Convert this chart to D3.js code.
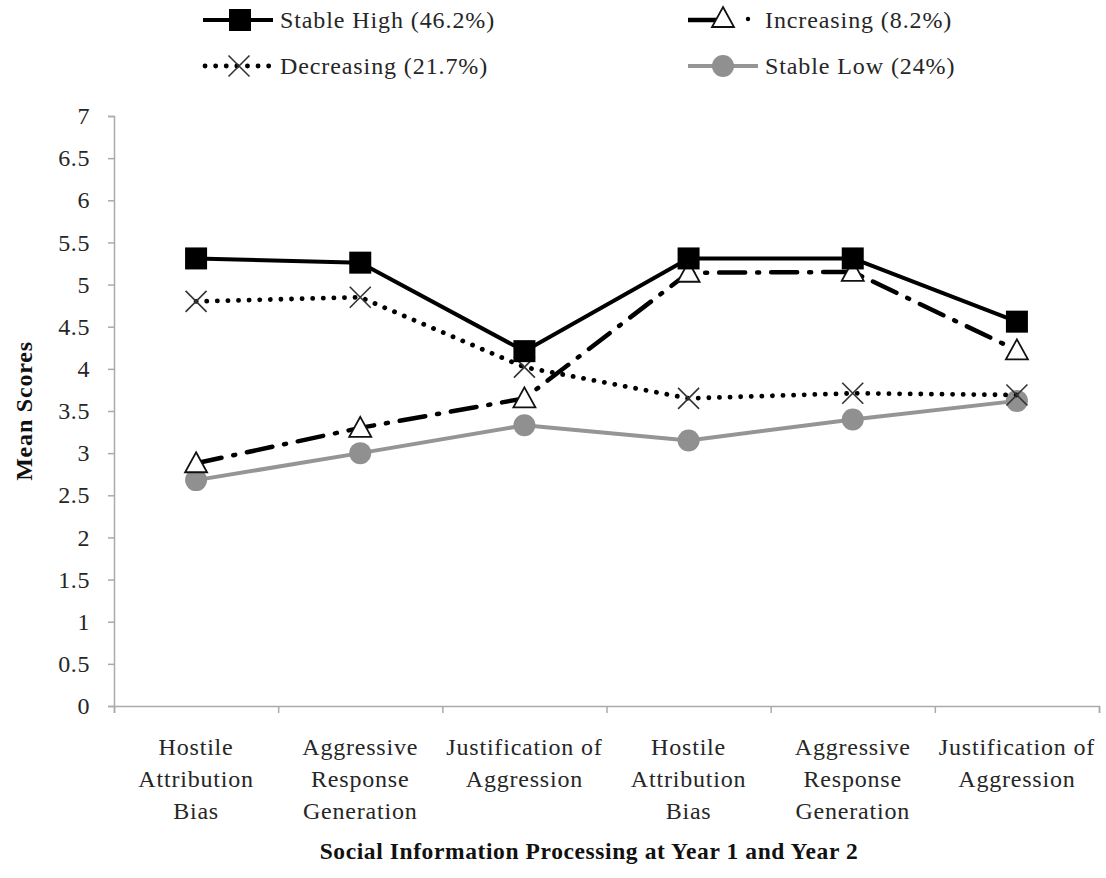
<!DOCTYPE html>
<html><head><meta charset="utf-8">
<script src="https://cdn.jsdelivr.net/npm/d3@7"></script>
<style>body{margin:0;background:#fff}svg{display:block}</style>
</head><body>
<svg id="c" width="1106" height="878"></svg>
<script>
const categories = [
  ["Hostile","Attribution","Bias"],
  ["Aggressive","Response","Generation"],
  ["Justification of","Aggression"],
  ["Hostile","Attribution","Bias"],
  ["Aggressive","Response","Generation"],
  ["Justification of","Aggression"]
];
const stableHigh = [5.31, 5.26, 4.21, 5.31, 5.31, 4.56];
const increasing = [2.88, 3.30, 3.65, 5.14, 5.15, 4.22];
const decreasing = [4.80, 4.85, 4.02, 3.65, 3.71, 3.69];
const stableLow  = [2.68, 3.00, 3.33, 3.15, 3.40, 3.62];
const yTicks = [0,0.5,1,1.5,2,2.5,3,3.5,4,4.5,5,5.5,6,6.5,7];
const seriesNames = ["Stable High (46.2%)","Increasing (8.2%)","Decreasing (21.7%)","Stable Low (24%)"];

const svg = d3.select("#c");
const font = '"Liberation Serif", "Times New Roman", Times, serif';
const mLeft = 114, mRight = 1099, mTop = 116, mBottom = 706;
const txtCol = "#262626";

const x = d3.scaleBand().domain(d3.range(categories.length)).range([mLeft, mRight]);
const y = d3.scaleLinear().domain([0, 7]).range([mBottom, mTop]);
const cx = i => x(i) + x.bandwidth() / 2;

function styleText(sel, size, spacing, weight) {
  return sel.style("font-family", font).style("font-size", size + "px")
    .style("letter-spacing", spacing + "px").style("font-weight", weight || "normal");
}

// Y axis
const yAxis = d3.axisLeft(y).tickValues(yTicks).tickSize(6).tickFormat(d3.format("~g"));
const gy = svg.append("g").attr("transform", `translate(${mLeft},0)`).call(yAxis);
gy.select(".domain").attr("stroke", "#aaa").attr("stroke-width", 1.5);
gy.selectAll(".tick line").attr("stroke", "#aaa").attr("stroke-width", 1.5);
styleText(gy.selectAll(".tick text"), 24, 0.6).attr("fill", txtCol).attr("x", -24);

// X axis
const xb = d3.scaleLinear().domain([0, categories.length]).range([mLeft, mRight]);
const gx = svg.append("g").attr("transform", `translate(0,${mBottom})`)
  .call(d3.axisBottom(xb).tickValues(d3.range(categories.length + 1)).tickSize(7).tickFormat(""));
gx.select(".domain").attr("stroke", "#aaa").attr("stroke-width", 1.5);
gx.selectAll(".tick line").attr("stroke", "#aaa").attr("stroke-width", 1.5);

// X labels
categories.forEach((lines, i) => {
  const t = styleText(svg.append("text"), 24, 0.8).attr("fill", txtCol).attr("text-anchor", "middle");
  lines.forEach((l, j) => t.append("tspan").attr("x", cx(i)).attr("y", 755 + j * 32).text(l));
});

// Titles
styleText(svg.append("text"), 23.5, 0.6, "bold").attr("x", 589).attr("y", 859).attr("text-anchor", "middle")
  .attr("fill", "#111").text("Social Information Processing at Year 1 and Year 2");
styleText(svg.append("text"), 24, 0.8, "bold").attr("transform", `translate(32,${(mTop + mBottom) / 2}) rotate(-90)`)
  .attr("text-anchor", "middle").attr("fill", "#111").text("Mean Scores");

const line = d3.line().x((d, i) => cx(i)).y(d => y(d));

function square(g, px, py) {
  g.append("rect").attr("x", px - 11).attr("y", py - 11).attr("width", 22).attr("height", 22).attr("fill", "#000");
}
function tri(g, px, py) {
  g.append("path").attr("d", `M${px},${py - 11} L${px + 11},${py + 9} L${px - 11},${py + 9} Z`)
    .attr("fill", "#fff").attr("stroke", "#111").attr("stroke-width", 1.8);
}
function cross(g, px, py) {
  g.append("path").attr("d", `M${px - 10.5},${py - 10.5} L${px + 10.5},${py + 10.5} M${px + 10.5},${py - 10.5} L${px - 10.5},${py + 10.5}`)
    .attr("stroke", "#333").attr("stroke-width", 1.6).attr("fill", "none");
}
function circle(g, px, py) {
  g.append("circle").attr("cx", px).attr("cy", py).attr("r", 11).attr("fill", "#909090");
}

const styles = {
  low: {stroke: "#959595", width: 4, dash: null, cap: "butt"},
  dec: {stroke: "#000", width: 4.8, dash: "0.1 10.5", cap: "round"},
  inc: {stroke: "#000", width: 4.5, dash: "26 12 2 12", cap: "round"},
  high: {stroke: "#000", width: 4, dash: null, cap: "butt"}
};

function drawSeries(data, st, marker) {
  svg.append("path").datum(data).attr("d", line).attr("fill", "none")
    .attr("stroke", st.stroke).attr("stroke-width", st.width).attr("stroke-linecap", st.cap)
    .attr("stroke-linejoin", "round").attr("stroke-dasharray", st.dash);
  const g = svg.append("g");
  data.forEach((d, i) => marker(g, cx(i), y(d)));
}
drawSeries(stableLow, styles.low, circle);
drawSeries(decreasing, styles.dec, cross);
drawSeries(increasing, styles.inc, tri);
drawSeries(stableHigh, styles.high, square);

// Legend
function legendText(xx, yy, label) {
  styleText(svg.append("text"), 24, 0.9).attr("x", xx).attr("y", yy + 8).attr("fill", txtCol).text(label);
}
function legendItem(x0, yy, st, marker, label, x1, mx) {
  svg.append("line").attr("x1", x0).attr("x2", x1).attr("y1", yy).attr("y2", yy)
    .attr("stroke", st.stroke).attr("stroke-width", st.width).attr("stroke-linecap", st.cap)
    .attr("stroke-dasharray", st.dash);
  marker(svg, mx, yy);
  legendText(x1 + 7, yy, label);
}
legendItem(203, 20, styles.high, square, seriesNames[0], 273, 240);
legendItem(205, 66, styles.dec, cross, seriesNames[2], 273, 239);
svg.append("line").attr("x1", 688).attr("x2", 722).attr("y1", 20).attr("y2", 20).attr("stroke", "#000").attr("stroke-width", 4.5);
tri(svg, 723, 18);
svg.append("circle").attr("cx", 748).attr("cy", 19).attr("r", 2.2).attr("fill", "#000");
legendText(765, 20, seriesNames[1]);
legendItem(688, 66, styles.low, circle, seriesNames[3], 758, 723);
</script>
</body></html>
